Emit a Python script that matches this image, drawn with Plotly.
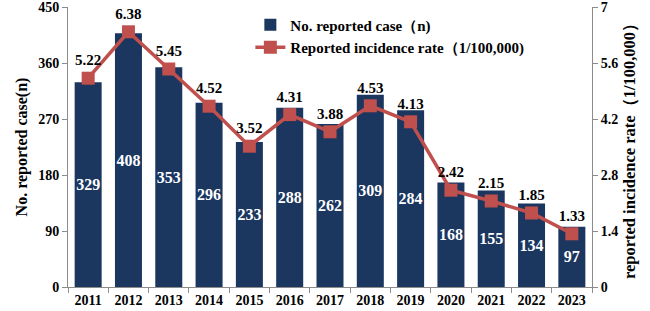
import plotly.graph_objects as go

years = ["2011","2012","2013","2014","2015","2016","2017","2018","2019","2020","2021","2022","2023"]
cases = [329,408,353,296,233,288,262,309,284,168,155,134,97]
rates = [5.22,6.38,5.45,4.52,3.52,4.31,3.88,4.53,4.13,2.42,2.15,1.85,1.33]
rate_labels = ["5.22","6.38","5.45","4.52","3.52","4.31","3.88","4.53","4.13","2.42","2.15","1.85","1.33"]

FONT = "Liberation Serif, Times New Roman, serif"
BAR = "#1B365F"
RED = "#C0504D"
AX = "#8C8C8C"

fig = go.Figure()
fig.add_trace(go.Bar(
    x=years, y=cases, name="No. reported case（n)",
    marker=dict(color=BAR, line=dict(width=0)),
    text=[str(c) for c in cases], textposition="inside", insidetextanchor="middle",
    constraintext="none",
    textfont=dict(color="white", size=16, family=FONT, weight="bold"),
    textangle=0,
))
fig.add_trace(go.Scatter(
    x=years, y=rates, name="Reported incidence rate（1/100,000)", yaxis="y2",
    mode="lines+markers+text",
    line=dict(color=RED, width=3.5),
    marker=dict(symbol="square", size=13, color=RED),
    text=rate_labels, textposition="top center",
    textfont=dict(color="black", size=15, family=FONT, weight="bold"),
    cliponaxis=False,
))

fig.update_layout(
    width=650, height=311,
    margin=dict(l=68, r=58, t=7, b=24),
    plot_bgcolor="white", paper_bgcolor="white",
    bargap=0.33,
    showlegend=True,
    legend=dict(x=0.348, y=0.995, xanchor="left", yanchor="top",
                bgcolor="rgba(0,0,0,0)",
                font=dict(family=FONT, size=15, color="black", weight="bold"),
                tracegroupgap=0, itemwidth=30),
    font=dict(family=FONT, color="black"),
    xaxis=dict(type="category", range=[-0.5, len(years) - 0.5],
               showline=True, linecolor=AX, linewidth=1,
               ticks="outside", tickson="boundaries", tickcolor=AX, ticklen=5,
               tickfont=dict(family=FONT, size=14, color="black", weight="bold"),
               showgrid=False, automargin=False, ticklabeloverflow="allow"),
    yaxis=dict(range=[0,450], dtick=90, tick0=0, showline=True, linecolor=AX, linewidth=1,
               ticks="outside", tickcolor=AX, ticklen=5, showgrid=False, zeroline=False,
               automargin=False, ticklabeloverflow="allow",
               tickfont=dict(family=FONT, size=14, color="black", weight="bold"),
               title=dict(text="No. reported case(n)", standoff=6,
                          font=dict(family=FONT, size=16, color="black", weight="bold"))),
    yaxis2=dict(range=[0,7], dtick=1.4, tick0=0, overlaying="y", side="right",
                showline=True, linecolor=AX, linewidth=1, ticks="outside", tickcolor=AX,
                ticklen=5, showgrid=False, zeroline=False, automargin=False,
                ticklabeloverflow="allow",
                tickfont=dict(family=FONT, size=14, color="black", weight="bold"),
                title=dict(text="reported incidence rate（1/100,000）", standoff=6,
                           font=dict(family=FONT, size=16.5, color="black", weight="bold"))),
)

fig.write_html("out.html", config={"displayModeBar": False},
               post_script="document.body.style.margin='0';")
